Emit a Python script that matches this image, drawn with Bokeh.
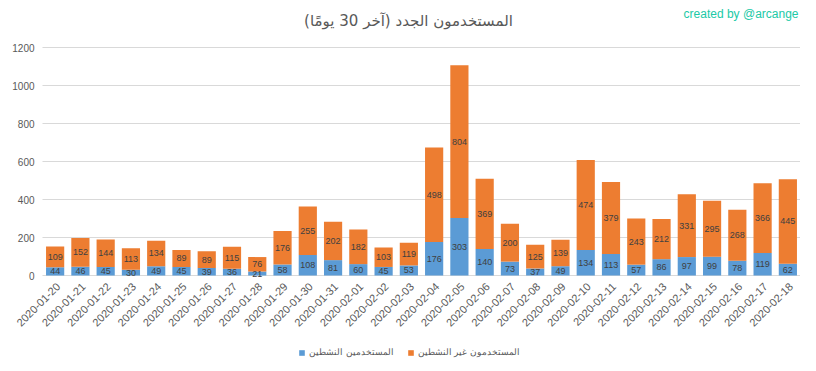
from bokeh.plotting import figure
from bokeh.models import ColumnDataSource, Legend, LegendItem, Label
from bokeh.core.properties import value
from bokeh.embed import file_html
from bokeh.resources import INLINE
import math

dates = ["2020-01-20", "2020-01-21", "2020-01-22", "2020-01-23", "2020-01-24",
         "2020-01-25", "2020-01-26", "2020-01-27", "2020-01-28", "2020-01-29",
         "2020-01-30", "2020-01-31", "2020-02-01", "2020-02-02", "2020-02-03",
         "2020-02-04", "2020-02-05", "2020-02-06", "2020-02-07", "2020-02-08",
         "2020-02-09", "2020-02-10", "2020-02-11", "2020-02-12", "2020-02-13",
         "2020-02-14", "2020-02-15", "2020-02-16", "2020-02-17", "2020-02-18"]
active = [44, 46, 45, 30, 49, 45, 39, 36, 21, 58, 108, 81, 60, 45, 53,
          176, 303, 140, 73, 37, 49, 134, 113, 57, 86, 97, 99, 78, 119, 62]
inactive = [109, 152, 144, 113, 134, 89, 89, 115, 76, 176, 255, 202, 182, 103, 119,
            498, 804, 369, 200, 125, 139, 474, 379, 243, 212, 331, 295, 268, 366, 445]
y_ticks = [0, 200, 400, 600, 800, 1000, 1200]

title_text = "المستخدمون الجدد (آخر 30 يومًا)"
credit_text = "created by @arcange"
label_active = "المستخدمين النشطين"
label_inactive = "المستخدمون غير النشطين"

BLUE = "#5b9bd5"
ORANGE = "#ed7d31"
GRAY = "#595959"
FONT = "Liberation Sans"

# layout in pixels: the frame spans the whole figure
W, H = 800, 363
PLOT_LEFT = 42       # pixel column where the category axis starts
ZERO_PX = 275        # pixel row of value 0 (from top)
TOP_TICK_PX = 47     # pixel row of the top tick
n = len(dates)
py_per_unit = (ZERO_PX - TOP_TICK_PX) / y_ticks[-1]
px_per_cat = (W - PLOT_LEFT) / n
y_start = -(H - ZERO_PX) / py_per_unit
y_end = ZERO_PX / py_per_unit
x_start = -PLOT_LEFT / px_per_cat
x_end = n

# category positions (one slot per date, centred in its slot)
xs = [i + 0.5 for i in range(n)]

src = ColumnDataSource(dict(
    x=xs, date=dates, active=active, inactive=inactive,
    zero=[0] * n,
    mid_a=[a / 2 for a in active],
    mid_i=[a + i / 2 for a, i in zip(active, inactive)],
    txt_a=[str(a) for a in active],
    txt_i=[str(i) for i in inactive],
))
tick_src = ColumnDataSource(dict(
    y=y_ticks, x0=[0] * len(y_ticks), x1=[n] * len(y_ticks),
    txt=[str(t) for t in y_ticks],
))

p = figure(x_range=(x_start, x_end), y_range=(y_start, y_end), width=W, height=H,
           output_backend="svg", toolbar_location=None,
           min_border_left=0, min_border_right=0, min_border_top=0,
           min_border_bottom=0)
p.outline_line_color = None
p.background_fill_color = "white"
p.border_fill_color = "white"
p.xaxis.visible = False
p.yaxis.visible = False
p.xgrid.grid_line_color = None
p.ygrid.grid_line_color = None

# horizontal grid lines at the value ticks (the 0 line doubles as the axis line)
p.segment(x0="x0", x1="x1", y0="y", y1="y", source=tick_src,
          line_color="#d9d9d9", line_width=1)
# value tick labels
p.text(x="x0", y="y", text="txt", source=tick_src, x_offset=-8,
       text_align="right", text_baseline="middle", text_font=value(FONT),
       text_font_size="10px", text_color=GRAY)

rs = p.vbar_stack(["active", "inactive"], x="x", width=0.72, source=src,
                  color=[BLUE, ORANGE], line_color=None)

p.text(x="x", y="mid_a", text="txt_a", source=src, text_align="center",
       text_baseline="middle", text_font=value(FONT), text_font_size="9px",
       text_color="#404040")
p.text(x="x", y="mid_i", text="txt_i", source=src, text_align="center",
       text_baseline="middle", text_font=value(FONT), text_font_size="9px",
       text_color="#404040")

# category (date) labels, rotated 45 degrees below the zero line
p.text(x="x", y="zero", text="date", source=src, angle=math.pi / 4,
       x_offset=3, y_offset=9, text_align="right", text_baseline="middle",
       text_font=value(FONT), text_font_size="11px", text_color=GRAY)

legend = Legend(items=[LegendItem(label=label_active, renderers=[rs[0]]),
                       LegendItem(label=label_inactive, renderers=[rs[1]])],
                orientation="horizontal", location=(298, 5),
                glyph_width=7, glyph_height=7, label_text_font=FONT,
                label_text_font_size="9px", label_text_color=GRAY,
                spacing=13, padding=2, margin=0, border_line_color=None,
                background_fill_alpha=0, label_standoff=4, label_height=12)
p.add_layout(legend)

p.add_layout(Label(x=408, y=H - 20, x_units="screen", y_units="screen",
                   text=title_text, text_align="center", text_baseline="middle",
                   text_font="DejaVu Sans", text_font_size="15px",
                   text_color=GRAY))
p.add_layout(Label(x=W - 2, y=H - 13, x_units="screen", y_units="screen",
                   text=credit_text, text_align="right", text_baseline="middle",
                   text_font=FONT, text_font_size="12px",
                   text_color="#20c9a6"))

open("out.html", "w").write(file_html(p, INLINE))
